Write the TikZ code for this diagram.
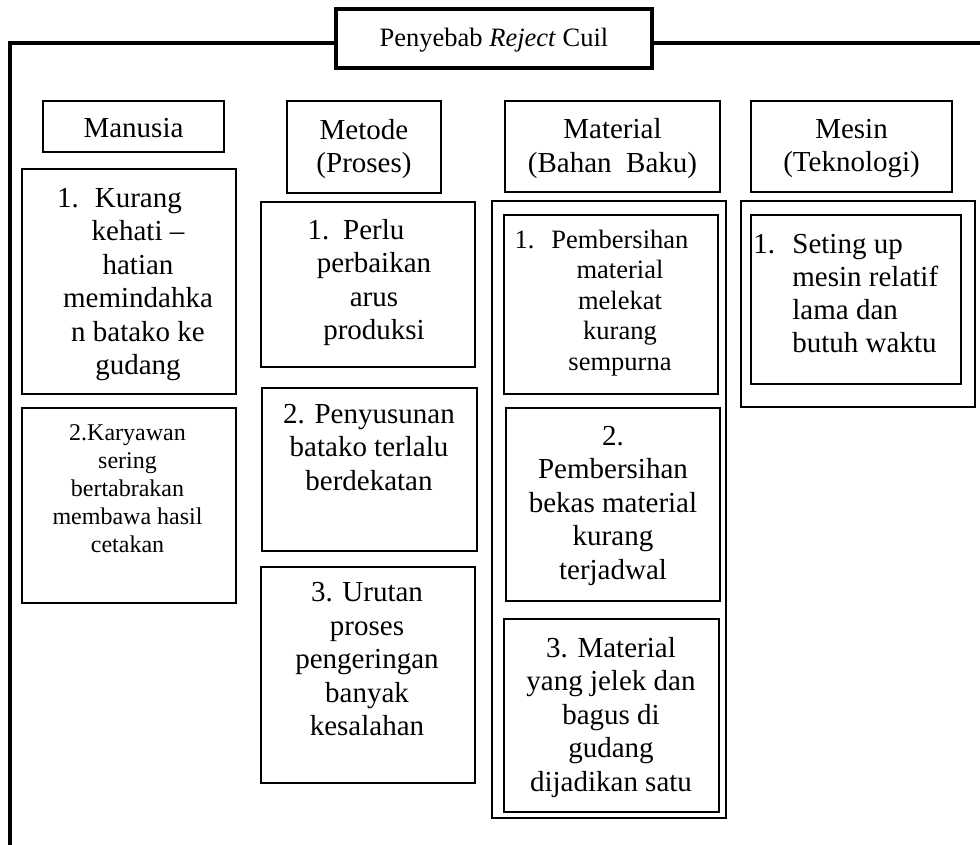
\documentclass[tikz,border=0pt]{standalone}
\usepackage{fontspec}
\setmainfont{Liberation Serif}
\usetikzlibrary{fit,calc}

\newcommand\hdfont{\fontsize{14.5}{16.75}\selectfont}
\newcommand\mdfont{\fontsize{13.25}{15.25}\selectfont}
\newcommand\smfont{\fontsize{12}{14}\selectfont}

\tikzset{
  outline/.style={line width=1.9pt},
  ttl/.style={draw,line width=1.8pt,inner sep=0pt},
  cell/.style={draw,line width=1.1pt,inner sep=0pt},
  lbl/.style={align=center,inner sep=0pt,font=\hdfont,yshift=-1pt},
  txt/.style={align=center,inner sep=0pt,anchor=north,font=\hdfont},
}

\begin{document}
\begin{tikzpicture}[x=0.5pt,y=-0.5pt]
    \useasboundingbox (0,0) rectangle (980,845);
    % --- Title box, the frame leaves it to the left and to the right ---
    \node[ttl,fit={(336,9) (652,68)}] (title) {};
    \node[lbl,font=\mdfont] (title-t) at (title) {Penyebab \textit{Reject} Cuil};
    \coordinate (tl) at (10,43);
    \coordinate (bl) at (10,845);
    \coordinate (tr) at (980,43);
    \draw[outline] (title.west |- tl) -- (tl) -- (bl);
    \draw[outline] (title.east |- tr) -- (tr);
    % --- Column heads ---
    \node[cell,fit={(43,101) (224,152)}] (manusia) {};
    \node[lbl] (manusia-t) at (manusia) {Manusia};
    \node[cell,fit={(287,101) (441,193)}] (metode) {};
    \node[lbl] (metode-t) at (metode) {Metode\\(Proses)};
    \node[cell,fit={(505,101) (720,192)}] (material) {};
    \node[lbl] (material-t) at (material) {Material\\(Bahan\ \ Baku)};
    \node[cell,fit={(751,101) (952,192)}] (mesin) {};
    \node[lbl] (mesin-t) at (mesin) {Mesin\\(Teknologi)};
    % --- Manusia ---
    \node[cell,fit={(22,169) (236,394)}] (man1) {};
    \node[txt] (man1-t) at (138,183.5)
        {\strut 1.\hspace{8pt}Kurang\hspace*{18.5pt}\\kehati –\\hatian\\memindahka\\n batako ke\\gudang};
    \node[cell,fit={(22,408) (236,603)}] (man2) {};
    \node[txt,font=\smfont] (man2-t) at (127.5,420.4)
        {\strut 2.Karyawan\\sering\\bertabrakan\\membawa hasil\\cetakan};
    % --- Metode ---
    \node[cell,fit={(261,202) (475,367)}] (met1) {};
    \node[txt] (met1-t) at (374,215.5)
        {\strut 1.\hspace{7pt}Perlu\hspace*{18pt}\\perbaikan\\arus\\produksi};
    \node[cell,fit={(262,388) (477,551)}] (met2) {};
    \node[txt] (met2-t) at (369,399.5)
        {\strut 2. Penyusunan\\batako terlalu\\berdekatan};
    \node[cell,fit={(261,567) (475,783)}] (met3) {};
    \node[txt] (met3-t) at (367,578)
        {\strut 3. Urutan\\proses\\pengeringan\\banyak\\kesalahan};
    % --- Material, double frame ---
    \node[cell,fit={(492,201) (726,818)}] (mat) {};
    \node[cell,fit={(504,215) (718,394)}] (mat1) {};
    \node[txt,font=\mdfont] (mat1-t) at (620,226.6)
        {\strut 1.\hspace{8.5pt}Pembersihan\hspace*{18.5pt}\\material\\melekat\\kurang\\sempurna};
    \node[cell,fit={(506,408) (720,601)}] (mat2) {};
    \node[txt] (mat2-t) at (613,421.5)
        {\strut 2.\\Pembersihan\\bekas material\\kurang\\terjadwal};
    \node[cell,fit={(504,619) (719,812)}] (mat3) {};
    \node[txt] (mat3-t) at (611,633.5)
        {\strut 3. Material\\yang jelek dan\\bagus di\\gudang\\dijadikan satu};
    % --- Mesin, double frame ---
    \node[cell,fit={(741,201) (975,407)}] (mes) {};
    \node[cell,fit={(751,215) (961,384)}] (mes1) {};
    \node[txt,align=left,anchor=north west,font={\fontsize{14.5}{16.5}\selectfont}] (mes1-t) at (753,229.9)
        {\strut\makebox[19.5pt][l]{1.}Seting up\\\hspace*{19.5pt}mesin relatif\\\hspace*{19.5pt}lama dan\\\hspace*{19.5pt}butuh waktu};
\end{tikzpicture}
\end{document}
